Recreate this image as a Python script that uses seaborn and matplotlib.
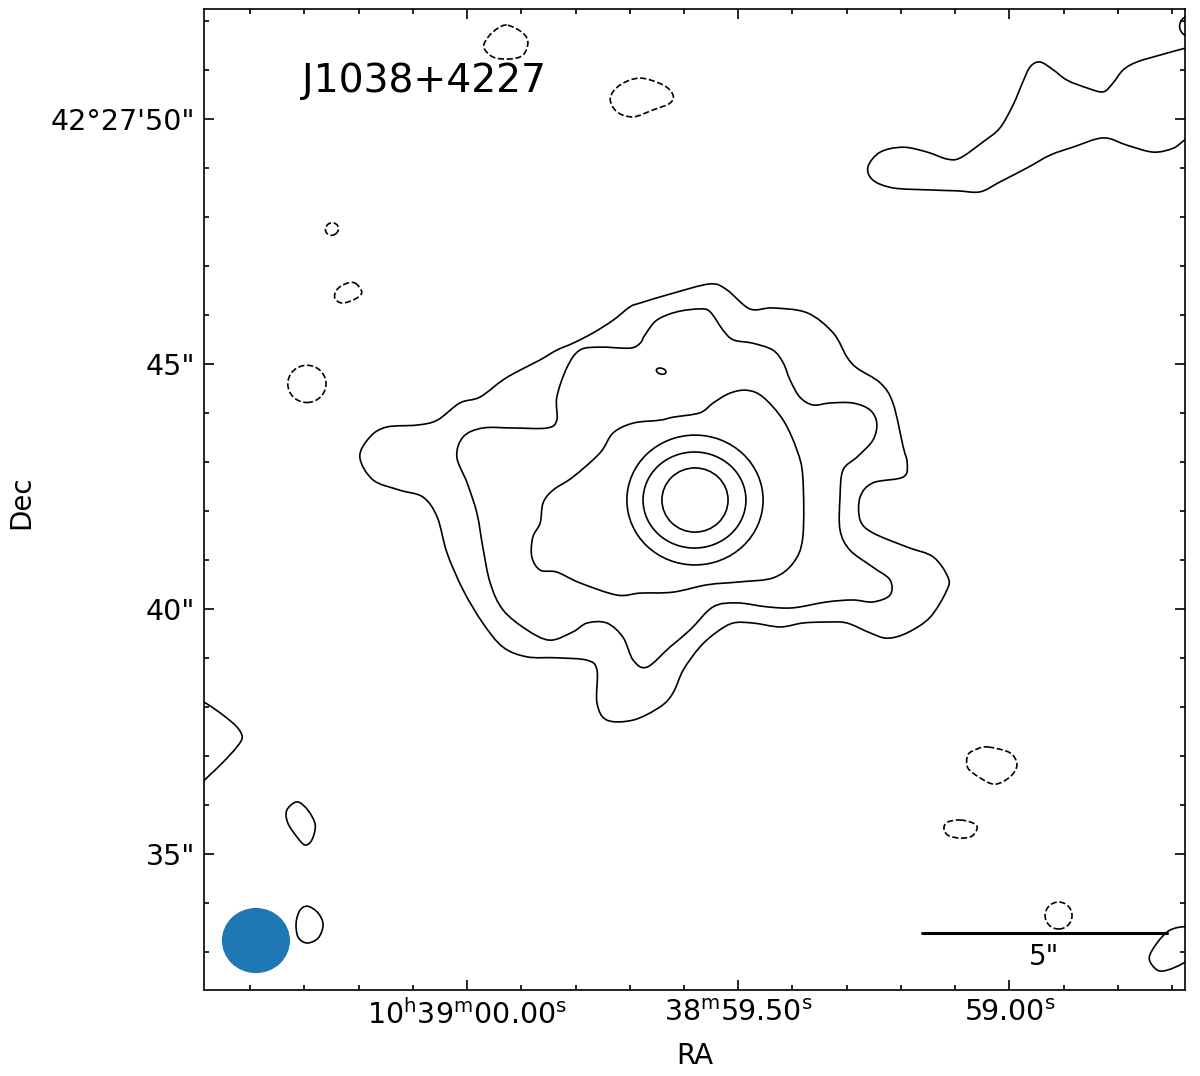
import numpy as np
import matplotlib
matplotlib.use("Agg")
import matplotlib.pyplot as plt
from matplotlib.path import Path
from matplotlib.patches import PathPatch, Ellipse
from matplotlib.ticker import FixedLocator, FixedFormatter
import seaborn as sns

# map centre (10h38m RA seconds, 42d27m Dec arcsec)
SOURCE = "J1038+4227"
RA0_S = 59.5816
DEC0_AS = 42.231
COS_DEC = np.cos(np.radians(42 + 27 / 60 + DEC0_AS / 3600))

# contour vertices, offsets in arcsec (x to the right, y up)
c1_x = [-1.10, -0.43, 0.33, 0.67, 1.14, 1.61, 2.31, 2.84, 3.12, 3.33, 3.80, 4.06, 4.27, 4.35, 4.27,
        3.65, 3.39, 3.39, 3.65, 4.35, 4.88, 5.18, 5.16, 4.82, 4.35, 3.94, 3.59, 3.12, 2.71, 2.22,
        1.76, 1.20, 0.80, 0.47, 0.12, -0.22, -0.43, -0.69, -1.24, -1.78, -1.98, -1.98, -2.18, -2.80,
        -3.41, -3.90, -4.31, -4.71, -5.04, -5.24, -5.53, -6.00, -6.55, -6.82, -6.61, -6.27, -5.65,
        -5.24, -4.78, -4.37, -3.90, -3.55, -3.14, -2.80, -2.47, -2.06, -1.65, -1.31]
c1_y = [4.02, 4.22, 4.41, 4.29, 3.90, 3.92, 3.82, 3.41, 2.92, 2.69, 2.39, 1.98, 1.08, 0.76, 0.47,
        0.35, 0.06, -0.41, -0.67, -0.96, -1.16, -1.57, -1.84, -2.39, -2.71, -2.82, -2.71, -2.51,
        -2.49, -2.51, -2.59, -2.51, -2.51, -2.69, -3.00, -3.47, -3.94, -4.22, -4.49, -4.49, -4.14,
        -3.47, -3.27, -3.22, -3.20, -3.00, -2.51, -1.84, -1.08, -0.35, 0.06, 0.20, 0.41, 0.88, 1.29,
        1.49, 1.53, 1.63, 1.98, 2.10, 2.45, 2.65, 2.86, 3.06, 3.20, 3.41, 3.67, 3.94]

c2_x = [-1.10, -1.31, -1.92, -2.33, -2.59, -2.80, -2.80, -3.00, -3.69, -4.31, -4.71, -4.84, -4.63,
        -4.43, -4.31, -4.16, -3.90, -3.41, -2.94, -2.47, -2.18, -1.78, -1.45, -1.24, -0.96, -0.49,
        -0.08, 0.39, 0.88, 1.49, 2.02, 2.71, 3.24, 3.65, 4.00, 4.00, 3.65, 3.18, 2.98, 2.98, 3.04,
        3.33, 3.65, 3.73, 3.59, 3.24, 2.78, 2.43, 2.16, 1.96, 1.82, 1.61, 1.20, 0.80, 0.59, 0.33,
        0.12, -0.35, -0.76, -1.00]
c2_y = [3.20, 3.10, 3.12, 3.06, 2.71, 2.10, 1.63, 1.47, 1.47, 1.47, 1.29, 0.88, 0.35, -0.27, -0.96,
        -1.69, -2.24, -2.65, -2.86, -2.69, -2.51, -2.51, -2.80, -3.27, -3.41, -3.00, -2.65, -2.18,
        -2.10, -2.18, -2.20, -2.08, -2.04, -2.08, -1.94, -1.63, -1.37, -1.02, -0.61, 0.06, 0.61,
        0.88, 1.22, 1.57, 1.84, 1.98, 1.98, 1.94, 2.10, 2.45, 2.80, 3.06, 3.20, 3.27, 3.47, 3.84,
        3.90, 3.84, 3.67, 3.37]

c3_x = [-0.69, -1.24, -1.65, -1.92, -2.47, -2.88, -3.08, -3.14, -3.29, -3.31, -3.14, -2.80, -2.33,
        -1.57, -1.10, -0.43, 0.27, 0.94, 1.61, 2.02, 2.22, 2.22, 2.10, 1.82, 1.41, 1.08, 0.73, 0.39,
        0.12, -0.43]
c3_y = [1.63, 1.57, 1.37, 0.96, 0.47, 0.20, -0.06, -0.47, -0.76, -1.16, -1.43, -1.47, -1.69, -1.94,
        -1.90, -1.88, -1.73, -1.67, -1.59, -1.29, -0.76, 0.47, 1.02, 1.63, 2.10, 2.24, 2.18, 1.98,
        1.78, 1.69]

# extended emission running off the top-right edge (open)
ne_x = [10.33, 10.02, 9.51, 9.04, 8.76, 8.55, 8.35, 8.02, 7.61, 7.33, 7.06, 6.86, 6.71, 6.51, 6.24,
        5.90, 5.43, 5.16, 4.76, 4.27, 3.80, 3.55, 3.65, 4.06, 4.76, 5.37, 5.84, 6.24, 6.80, 7.27,
        7.73, 8.35, 8.84, 9.37, 9.78, 10.02, 10.33]
ne_y = [9.29, 9.22, 9.08, 8.94, 8.78, 8.51, 8.33, 8.41, 8.57, 8.78, 8.94, 8.84, 8.53, 8.06, 7.59,
        7.31, 6.98, 6.96, 7.10, 7.20, 7.10, 6.80, 6.53, 6.37, 6.33, 6.31, 6.29, 6.49, 6.78, 7.04,
        7.20, 7.39, 7.24, 7.10, 7.18, 7.35, 7.49]

# blob on the left edge (open)
w_x = [-10.12, -9.94, -9.61, -9.33, -9.22, -9.33, -9.61, -9.88, -10.12]
w_y = [-4.08, -4.16, -4.39, -4.63, -4.84, -5.04, -5.35, -5.61, -5.84]

# small positive islands
s1_x = [-8.10, -7.88, -7.73, -7.80, -7.94, -8.10, -8.29, -8.31]
s1_y = [-6.16, -6.33, -6.63, -6.94, -7.04, -6.88, -6.59, -6.33]
s2_x = [-7.88, -7.67, -7.57, -7.67, -7.90, -8.08, -8.12, -8.04]
s2_y = [-8.29, -8.43, -8.67, -8.94, -9.04, -8.92, -8.63, -8.37]
s3_x = [10.06, 9.71, 9.45, 9.29, 9.45, 9.67, 10.02, 10.29, 10.33]
s3_y = [-8.71, -8.78, -9.04, -9.35, -9.59, -9.59, -9.43, -9.18, -8.84]

# negative (dashed) islands
n1_x = [-3.80, -3.49, -3.39, -3.49, -3.76, -4.10, -4.29, -4.20, -4.00]
n1_y = [9.69, 9.53, 9.33, 9.08, 9.00, 9.04, 9.24, 9.45, 9.63]
n2_x = [-1.10, -0.63, -0.43, -0.49, -0.84, -1.24, -1.57, -1.71, -1.51]
n2_y = [8.61, 8.47, 8.27, 8.10, 7.96, 7.82, 7.92, 8.20, 8.47]
n3_x = [-6.92, -6.78, -6.92, -7.18, -7.33, -7.29, -7.12]
n3_y = [4.43, 4.24, 4.10, 4.02, 4.12, 4.29, 4.41]
n4_x = [6.00, 6.45, 6.59, 6.45, 6.14, 5.84, 5.59, 5.59, 5.78]
n4_y = [-5.04, -5.16, -5.41, -5.65, -5.80, -5.67, -5.47, -5.20, -5.08]
n5_x = [5.43, 5.69, 5.78, 5.67, 5.43, 5.18, 5.10, 5.18]
n5_y = [-6.53, -6.59, -6.69, -6.86, -6.90, -6.84, -6.69, -6.57]

# near-elliptical contours: centre x, centre y, width, height, angle, dashed
blob_x = [0.02, 0.01, 0.02, -7.39, -7.90, 7.44, -0.67, 10.16]
blob_y = [0.00, 0.00, 0.00, 5.53, 2.37, -8.48, 2.63, 9.67]
blob_w = [2.78, 2.10, 1.35, 0.27, 0.78, 0.55, 0.20, 0.50]
blob_h = [2.65, 1.96, 1.31, 0.25, 0.76, 0.55, 0.12, 0.45]
blob_ang = [0, 0, 0, 30, 0, 0, -15, 0]
blob_neg = [False, False, False, True, True, True, False, False]

# restoring beam
beam_x, beam_y, beam_w, beam_h = -8.94, -8.99, 1.39, 1.33

# axis ticks
ra_major_s = [60.00, 59.50, 59.00]
ra_major_lab = [r"10$^{\rm h}$39$^{\rm m}$00.00$^{\rm s}$",
                r"38$^{\rm m}$59.50$^{\rm s}$", r"59.00$^{\rm s}$"]
ra_minor_s = [58.7, 58.8, 58.9, 59.1, 59.2, 59.3, 59.4, 59.6, 59.7, 59.8, 59.9,
              60.1, 60.2, 60.3, 60.4]
dec_major_as = [35, 40, 45, 50]
dec_major_lab = ['35"', '40"', '45"', '42°27\'50"']
dec_minor_as = list(range(33, 53))

scale_len = 5.0


def smooth_path(xs, ys, closed=True):
    p = np.column_stack([xs, ys])
    n = len(p)
    if closed:
        get = lambda i: p[i % n]
        segs = range(n)
    else:
        get = lambda i: p[min(max(i, 0), n - 1)]
        segs = range(n - 1)
    verts = [p[0]]
    codes = [Path.MOVETO]
    for i in segs:
        p0, p1, p2, p3 = get(i - 1), get(i), get(i + 1), get(i + 2)
        verts += [p1 + (p2 - p0) / 6, p2 - (p3 - p1) / 6, p2]
        codes += [Path.CURVE4] * 3
    return Path(verts, codes)


def ra_off(s):
    return (RA0_S - np.asarray(s)) * 15 * COS_DEC


sns.set_theme(style="ticks", rc={"axes.edgecolor": "black", "axes.linewidth": 1.2,
                                 "xtick.color": "black", "ytick.color": "black",
                                 "text.color": "black", "axes.labelcolor": "black"})
plt.rcParams['font.family'] = ['DejaVu Sans']
plt.rcParams['mathtext.fontset'] = 'dejavusans'

fig = plt.figure(figsize=(12, 10.76), dpi=100)
ax = fig.add_axes([0.17, 0.0799, 0.8175, 0.9117])

contours = [
    (c1_x, c1_y, True, '-'), (c2_x, c2_y, True, '-'), (c3_x, c3_y, True, '-'),
    (ne_x, ne_y, False, '-'), (w_x, w_y, False, '-'),
    (s1_x, s1_y, True, '-'), (s2_x, s2_y, True, '-'), (s3_x, s3_y, True, '-'),
    (n1_x, n1_y, True, '--'), (n2_x, n2_y, True, '--'), (n3_x, n3_y, True, '--'),
    (n4_x, n4_y, True, '--'), (n5_x, n5_y, True, '--'),
]
for xs, ys, closed, ls in contours:
    ax.add_patch(PathPatch(smooth_path(xs, ys, closed), fill=False, ec='black',
                           lw=1.2, ls=ls))

for bx, by, bw, bh, ba, neg in zip(blob_x, blob_y, blob_w, blob_h, blob_ang, blob_neg):
    ax.add_patch(Ellipse((bx, by), bw, bh, angle=ba, fill=False, ec='black', lw=1.2,
                         ls='--' if neg else '-'))

beam_col = sns.color_palette("tab10")[0]
ax.add_patch(Ellipse((beam_x, beam_y), beam_w, beam_h, fc=beam_col, ec='none'))

# scale bar
bar_right = 9.65
bar_y = -8.83
sns.lineplot(x=[bar_right - scale_len, bar_right], y=[bar_y, bar_y], color='black',
             lw=2.2, ax=ax, sort=False)
ax.text(bar_right - scale_len / 2, -9.33, '5"', ha='center', va='center', fontsize=20)

ax.text(0.1, 0.9156, SOURCE, transform=ax.transAxes, fontsize=28.3, ha='left',
        va='baseline')

ax.set_xlim(-10.0, 10.02)
ax.set_ylim(-10.0, 10.02)
ax.set_aspect('auto')

ax.xaxis.set_major_locator(FixedLocator(ra_off(ra_major_s)))
ax.xaxis.set_major_formatter(FixedFormatter(ra_major_lab))
ax.xaxis.set_minor_locator(FixedLocator(ra_off(ra_minor_s)))
ax.yaxis.set_major_locator(FixedLocator(np.array(dec_major_as) - DEC0_AS))
ax.yaxis.set_major_formatter(FixedFormatter(dec_major_lab))
ax.yaxis.set_minor_locator(FixedLocator(np.array(dec_minor_as) - DEC0_AS))

ax.tick_params(which='both', direction='in', top=True, right=True, width=1.2,
               labelsize=20.5, pad=6.5)
ax.tick_params(which='major', length=7)
ax.tick_params(which='minor', length=3.5)
for sp in ax.spines.values():
    sp.set_visible(True)

ax.set_xlabel("RA", fontsize=20)
ax.set_ylabel("Dec", fontsize=20)
ax.xaxis.set_label_coords(0.5, -0.067)
ax.xaxis.label.set_va('center')
ax.yaxis.set_label_coords(-0.1865, 0.497)
ax.yaxis.label.set_va('center')

fig.savefig("out.png", dpi=100)
